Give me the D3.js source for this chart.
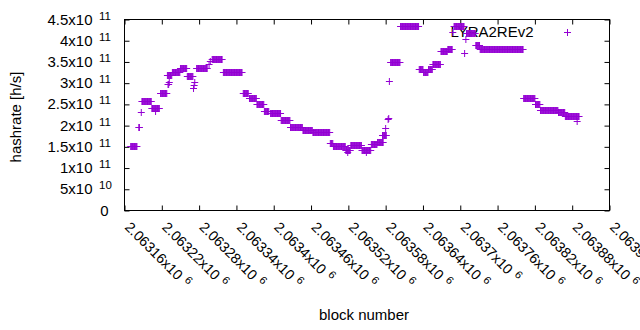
<!DOCTYPE html>
<html>
<head>
<meta charset="utf-8">
<script src="https://cdn.jsdelivr.net/npm/d3@7"></script>
<style>
  html, body { margin: 0; padding: 0; background: #fff; }
  svg { display: block; font-family: "Liberation Sans", Arial, sans-serif; }
</style>
</head>
<body>
<svg id="chart" width="640" height="330"></svg>
<script>
// ---- data (runs of consecutive blocks sharing one hashrate estimate) ----
const runStart = [2063170,2063183,2063187,2063188,2063204,2063210,2063218,2063229,2063230,2063232,2063237,2063250,2063261,2063271,2063272,2063273,
  2063276,2063296,2063298,2063301,2063319,2063351,2063361,2063373,2063385,2063395,2063412,2063427,2063447,2063463,2063491,2063496,
  2063516,2063519,2063524,2063542,2063549,2063557,2063567,2063575,2063580,2063584,2063585,2063586,2063588,2063604,2063634,2063641,
  2063649,2063656,2063669,2063680,2063688,2063690,2063707,2063709,2063710,2063725,2063732,2063802,2063821,2063829,2063858,2063869,2063888];
const runEnd   = [2063180,2063184,2063187,2063203,2063216,2063210,2063228,2063236,2063231,2063232,2063249,2063260,2063270,2063271,2063272,2063273,
  2063293,2063296,2063298,2063317,2063349,2063359,2063372,2063384,2063392,2063411,2063426,2063446,2063462,2063490,2063495,2063515,
  2063523,2063519,2063541,2063556,2063549,2063566,2063576,2063581,2063580,2063584,2063585,2063586,2063603,2063633,2063640,2063648,
  2063655,2063668,2063679,2063687,2063688,2063706,2063707,2063709,2063724,2063731,2063801,2063820,2063828,2063857,2063868,2063891,2063888];
const runValue = [1.53e11,1.97e11,2.33e11,2.58e11,2.41e11,2.34e11,2.76e11,3.19e11,2.98e11,3.03e11,3.27e11,3.35e11,3.16e11,2.88e11,2.95e11,3.03e11,
  3.35e11,3.46e11,3.52e11,3.58e11,3.27e11,2.77e11,2.64e11,2.52e11,2.35e11,2.30e11,2.13e11,1.96e11,1.89e11,1.84e11,1.58e11,1.52e11,
  1.43e11,1.39e11,1.55e11,1.43e11,1.39e11,1.56e11,1.62e11,1.78e11,1.95e11,2.16e11,2.19e11,3.05e11,3.49e11,4.35e11,3.34e11,3.27e11,
  3.33e11,3.44e11,3.76e11,3.80e11,4.21e11,4.35e11,3.70e11,4.03e11,4.18e11,3.89e11,3.81e11,2.66e11,2.52e11,2.37e11,2.32e11,2.23e11,2.10e11];

const seriesName = "LYRA2REv2";
const xTickValues = [2063160,2063220,2063280,2063340,2063400,2063460,2063520,2063580,2063640,2063700,2063760,2063820,2063880,2063940];
const xTickLabels = ["2.06316","2.06322","2.06328","2.06334","2.0634","2.06346","2.06352","2.06358","2.06364","2.0637","2.06376","2.06382","2.06388","2.06394"];
const xTickExp = "6";
const yTickValues = [0,5e10,1e11,1.5e11,2e11,2.5e11,3e11,3.5e11,4e11,4.5e11];
const yTickLabels = ["0","5","1","1.5","2","2.5","3","3.5","4","4.5"];
const yTickExps   = ["","10","11","11","11","11","11","11","11","11"];

// ---- build points ----
const points = [];
runStart.forEach((s, i) => {
  for (let b = s; b <= runEnd[i]; b++) points.push({block: b, hashrate: runValue[i]});
});

const color = "#9400D3";
const svg = d3.select("#chart");
const L = 124.5, R = 609.5, T = 19.5, B = 210.5;
const x = d3.scaleLinear().domain([2063160, 2063940]).range([L, R]);
const y = d3.scaleLinear().domain([0, 4.5e11]).range([B, T]);

// axes with mirrored inward ticks
const tk = 5;
function clean(g) { g.select(".domain").remove(); g.selectAll("text").remove(); g.selectAll("line").attr("stroke", "#000"); }
svg.append("g").attr("transform", `translate(${L},0)`).call(d3.axisLeft(y).tickValues(yTickValues).tickSize(-tk)).call(clean);
svg.append("g").attr("transform", `translate(${R},0)`).call(d3.axisRight(y).tickValues(yTickValues).tickSize(-tk)).call(clean);
svg.append("g").attr("transform", `translate(0,${B})`).call(d3.axisBottom(x).tickValues(xTickValues).tickSize(-tk)).call(clean);
svg.append("g").attr("transform", `translate(0,${T})`).call(d3.axisTop(x).tickValues(xTickValues).tickSize(-tk)).call(clean);
svg.append("rect").attr("x", L).attr("y", T).attr("width", R - L).attr("height", B - T)
  .attr("fill", "none").attr("stroke", "#000").attr("stroke-width", 1);

// y tick labels
yTickValues.forEach((v, i) => {
  const ty = y(v);
  if (yTickExps[i]) {
    svg.append("text").attr("x", 92.5).attr("y", ty + 5).attr("text-anchor", "end")
      .attr("font-size", 15).attr("fill", "#000").text(yTickLabels[i] + "x10");
    svg.append("text").attr("x", 99).attr("y", ty).attr("text-anchor", "start")
      .attr("font-size", 11.5).attr("fill", "#000").text(yTickExps[i]);
  } else {
    svg.append("text").attr("x", 108.5).attr("y", ty + 5).attr("text-anchor", "end")
      .attr("font-size", 15).attr("fill", "#000").text(yTickLabels[i]);
  }
});

// x tick labels (rotated)
xTickValues.forEach((v, i) => {
  const t = svg.append("text").attr("transform", `translate(${x(v) - 0.5},228) rotate(45)`)
    .attr("font-size", 14.3).attr("fill", "#000");
  t.append("tspan").text(xTickLabels[i] + "x10");
  t.append("tspan").attr("dx", 5).attr("dy", -5).attr("font-size", 11).text(xTickExp);
});

// axis titles
svg.append("text").attr("transform", "translate(21,117) rotate(-90)").attr("text-anchor", "middle")
  .attr("font-size", 15).attr("fill", "#000").text("hashrate [h/s]");
svg.append("text").attr("x", 364).attr("y", 320).attr("text-anchor", "middle")
  .attr("font-size", 15).attr("fill", "#000").text("block number");

// legend
const plus = (cx, cy, s) => `M${cx - s},${cy}H${cx + s}M${cx},${cy - s}V${cy + s}`;
svg.append("text").attr("x", 533.5).attr("y", 37).attr("text-anchor", "end")
  .attr("font-size", 15).attr("fill", "#000").text(seriesName);
svg.append("path").attr("d", plus(567.5, 32.5, 3.5)).attr("stroke", color).attr("stroke-width", 1).attr("fill", "none");

// points
svg.append("g").selectAll("path").data(points).join("path")
  .attr("d", d => plus(x(d.block), Math.round(y(d.hashrate)) + 0.5, 3.5))
  .attr("stroke", color).attr("stroke-width", 1).attr("fill", "none");
</script>
</body>
</html>
